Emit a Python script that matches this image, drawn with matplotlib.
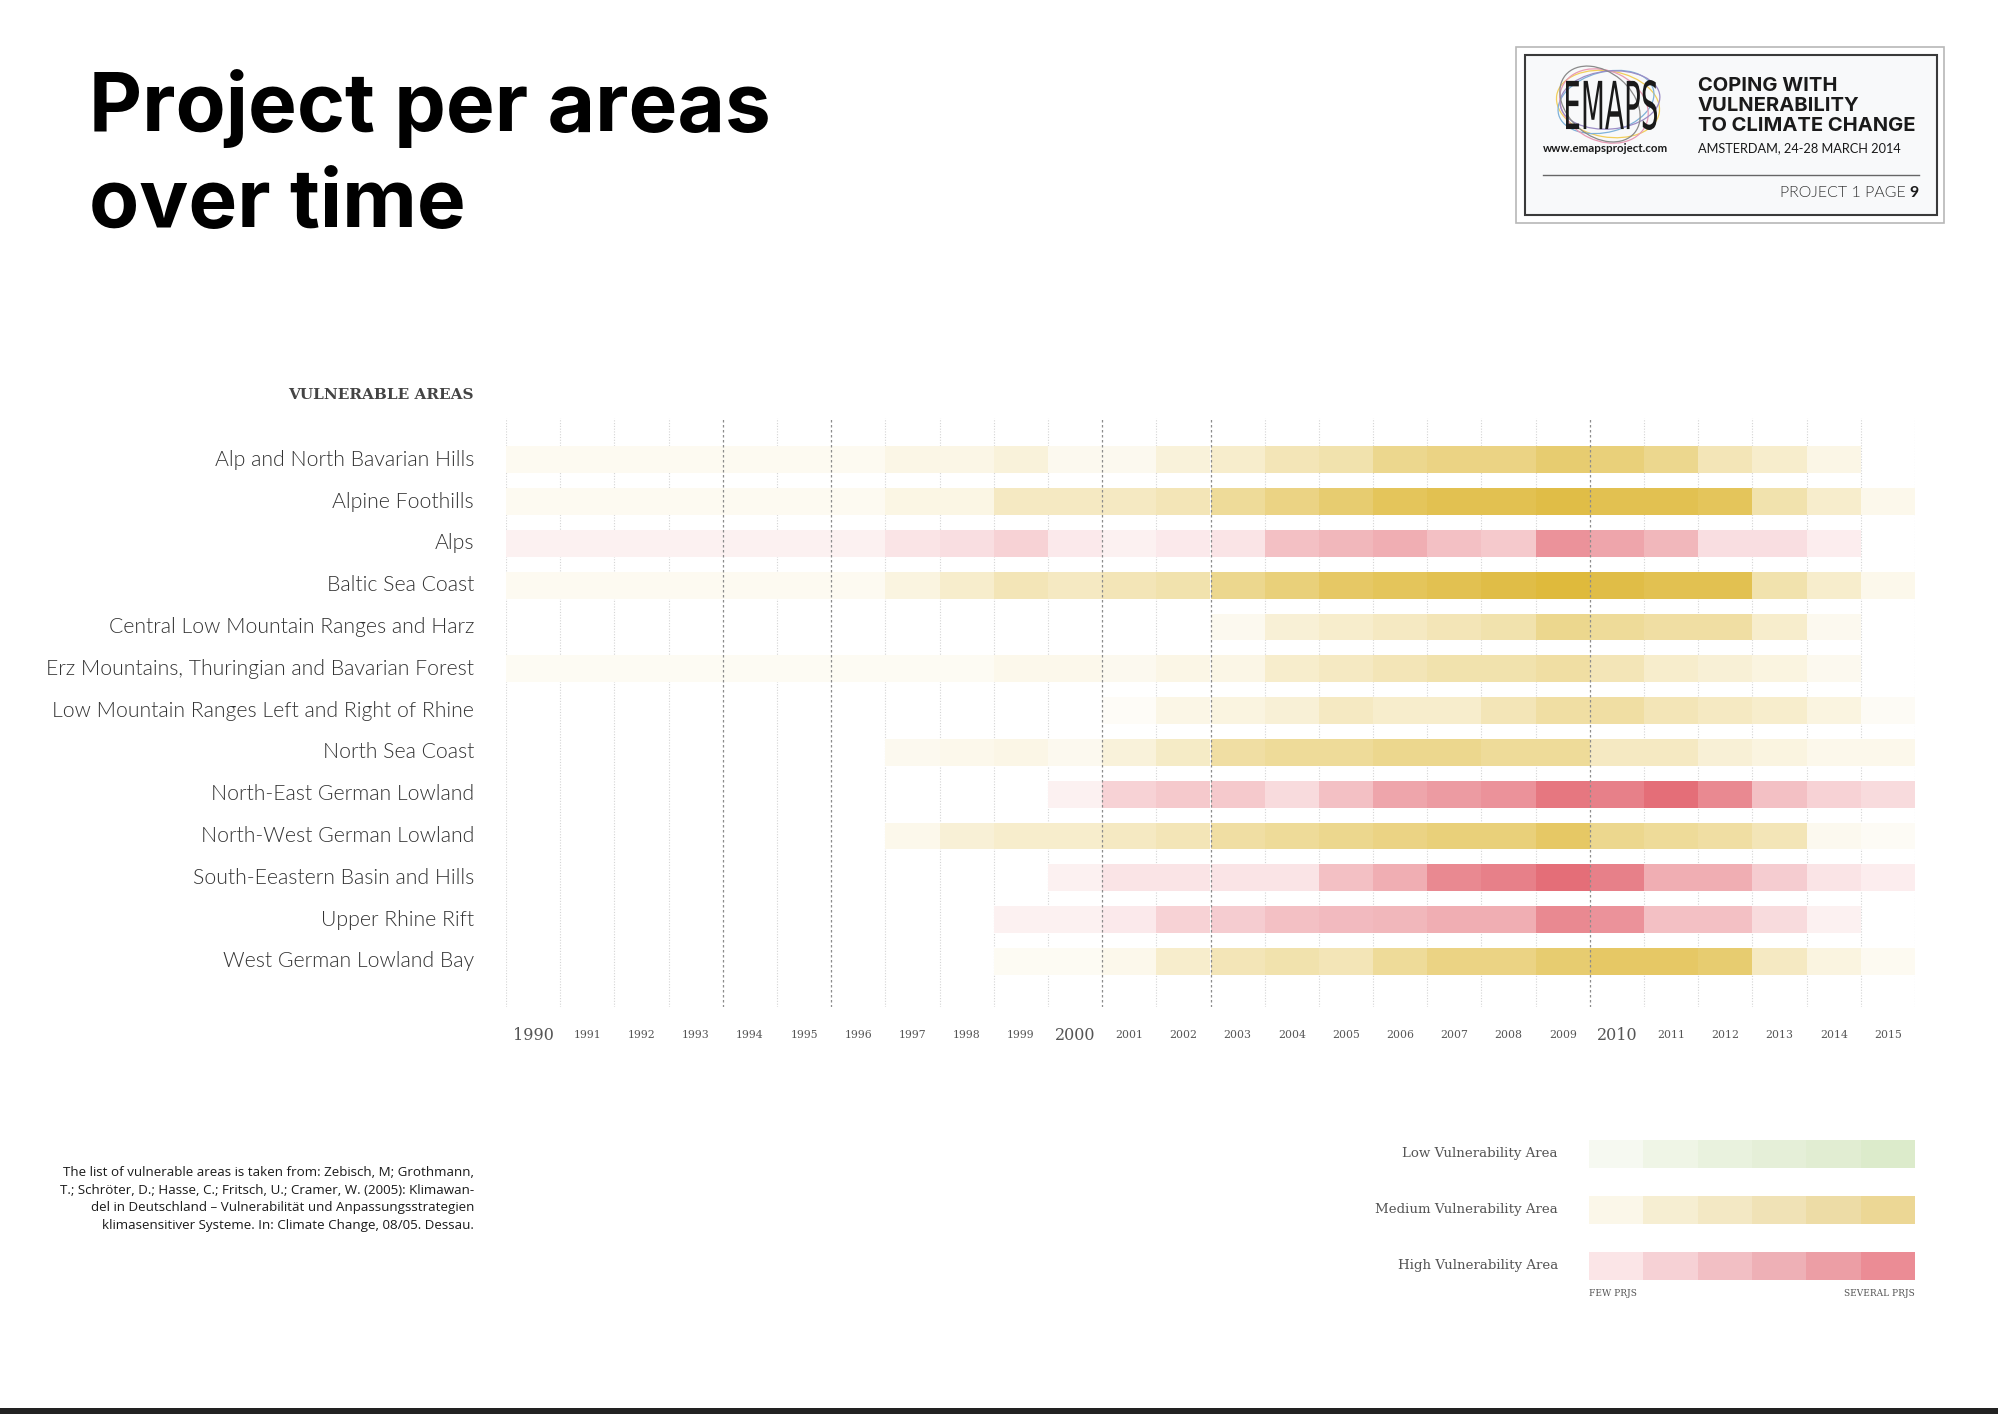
import matplotlib
matplotlib.use('Agg')
import matplotlib.pyplot as plt
import matplotlib.transforms as mtransforms
from matplotlib.patches import Rectangle, Ellipse, PathPatch
from matplotlib.textpath import TextPath
from matplotlib.font_manager import FontProperties
import numpy as np

# ---- data -----------------------------------------------------------------
years = list(range(1990, 2016))

areas = ["Alp and North Bavarian Hills", "Alpine Foothills", "Alps",
         "Baltic Sea Coast", "Central Low Mountain Ranges and Harz",
         "Erz Mountains, Thuringian and Bavarian Forest",
         "Low Mountain Ranges Left and Right of Rhine", "North Sea Coast",
         "North-East German Lowland", "North-West German Lowland",
         "South-Eeastern Basin and Hills", "Upper Rhine Rift",
         "West German Lowland Bay"]

vulnerability = ["medium", "medium", "high", "medium", "medium", "medium",
                 "medium", "medium", "high", "medium", "high", "high", "medium"]

# project density per year (0 = none, 10 = many)
alp_hills = [0.7]*7 + [1.2, 1.2, 1.8, 0.8, 0.8, 1.8, 2.5, 3.5, 4.0, 5.5, 6.0, 6.0, 7.0, 6.5, 5.5, 3.5, 2.5, 1.2, 0]
alpine_foothills = [0.7]*7 + [1.3, 1.3, 3.0, 3.0, 3.0, 3.5, 5.0, 6.0, 7.0, 8.0, 8.5, 8.5, 9.0, 8.5, 8.5, 8.0, 4.0, 2.5, 1.0]
alps = [0.8]*7 + [1.5, 1.8, 2.5, 1.2, 0.8, 1.2, 1.5, 3.5, 4.0, 4.5, 3.5, 3.0, 6.0, 5.0, 4.0, 1.8, 1.8, 1.0, 0]
baltic = [0.7]*7 + [1.5, 2.5, 3.5, 3.0, 3.5, 4.0, 5.5, 6.5, 7.5, 8.0, 8.5, 9.0, 9.5, 9.0, 8.5, 8.5, 4.0, 2.5, 1.0]
central_harz = [0]*13 + [0.8, 2.0, 2.5, 3.0, 3.5, 4.0, 5.5, 5.0, 4.5, 4.5, 2.5, 0.8, 0]
erz_mountains = [0.6]*9 + [1.0, 1.0, 0.8, 1.2, 1.2, 2.5, 3.0, 3.5, 4.0, 4.0, 4.5, 3.5, 2.5, 2.0, 1.5, 0.8, 0]
rhine_ranges = [0]*11 + [0.4, 1.2, 1.5, 2.0, 3.0, 2.5, 2.5, 3.5, 4.5, 4.5, 3.5, 3.0, 2.5, 1.5, 0.5]
north_sea = [0]*7 + [0.8, 1.0, 1.2, 0.8, 1.8, 2.8, 4.5, 5.0, 5.0, 5.5, 5.5, 5.0, 5.0, 3.0, 3.0, 2.0, 1.5, 1.0, 1.0]
ne_lowland = [0]*10 + [0.8, 2.5, 3.0, 3.0, 2.0, 3.5, 5.0, 5.5, 6.0, 7.5, 7.0, 8.0, 6.5, 3.5, 2.5, 2.0]
nw_lowland = [0]*7 + [1.0, 2.0, 2.5, 2.5, 3.0, 3.5, 4.5, 5.0, 5.5, 6.0, 6.5, 6.5, 7.5, 5.5, 5.0, 4.5, 3.5, 0.8, 0.5]
se_basin = [0]*10 + [0.8, 1.5, 1.5, 1.5, 1.5, 3.5, 4.5, 6.5, 7.0, 8.0, 7.0, 4.5, 4.5, 2.8, 1.5, 1.0]
upper_rhine = [0]*9 + [0.8, 0.8, 1.2, 2.5, 2.8, 3.5, 3.8, 4.0, 4.5, 4.5, 6.5, 6.0, 3.5, 3.5, 2.0, 0.8, 0]
west_bay = [0]*9 + [0.6, 0.6, 1.0, 2.5, 3.5, 4.0, 3.5, 5.0, 6.0, 6.0, 7.0, 7.5, 7.5, 7.0, 3.0, 1.5, 0.7]

levels = [alp_hills, alpine_foothills, alps, baltic, central_harz, erz_mountains,
          rhine_ranges, north_sea, ne_lowland, nw_lowland, se_basin, upper_rhine, west_bay]

marked_years = [1994, 1996, 2001, 2003, 2010]

legend_labels = ["Low Vulnerability Area", "Medium Vulnerability Area", "High Vulnerability Area"]
legend_colors = [
    ["#f6f9f1", "#eff5e6", "#e9f2de", "#e5efd8", "#e1edd2", "#dcebcb"],
    ["#fbf7e9", "#f6eed2", "#f3e8c4", "#f0e2b6", "#eddca6", "#ecd795"],
    ["#fbe5e7", "#f6d1d5", "#f2bfc4", "#eeb0b6", "#ec9ea5", "#eb8c95"],
]

# ---- style ----------------------------------------------------------------
W, H = 1999, 1414
MAX_COLOR = {"medium": np.array([221, 182, 50]), "high": np.array([221, 74, 86])}


def shade(kind, lv):
    t = min(lv / 10.0, 1.0)
    c = 255 - t * (255 - MAX_COLOR[kind])
    return c / 255.0


def fig_rect(x0, y0, x1, y1):
    return [x0 / W, 1 - y1 / H, (x1 - x0) / W, (y1 - y0) / H]


fig = plt.figure(figsize=(W / 100, H / 100), dpi=100)
fig.patch.set_facecolor("white")

# overlay in pixel coordinates for the page furniture
ov = fig.add_axes([0, 0, 1, 1])
ov.set_xlim(0, W)
ov.set_ylim(H, 0)
ov.axis("off")

ax = fig.add_axes(fig_rect(506, 418, 1915, 1007))
ax.set_facecolor("none")
ax.set_xlim(1990, 2016)
ax.set_ylim(13.09, -1.0)
for s in ax.spines.values():
    s.set_visible(False)
ax.set_xticks([])
ax.set_yticks([])

# heat strips
for i, (row, kind) in enumerate(zip(levels, vulnerability)):
    xs = [y for y, lv in zip(years, row) if lv > 0]
    cs = [shade(kind, lv) for lv in row if lv > 0]
    ax.barh([i] * len(xs), [1] * len(xs), left=xs, height=0.64, color=cs,
            linewidth=0, align="center", zorder=2)

# vertical year grid
for yr in range(1990, 2017):
    if yr in marked_years:
        ax.axvline(yr, color="#8c8c8c", lw=0.9, ls=(0, (2, 2)), zorder=3)
    else:
        ax.axvline(yr, color="#d4d4d4", lw=0.8, ls=(0, (1, 1.5)), zorder=1)

# year labels
tx = mtransforms.blended_transform_factory(ax.transData, ov.transData)
for yr in years:
    big = yr % 10 == 0
    ax.text(yr + 0.5, 1035, str(yr), transform=tx, ha="center", va="center",
            fontsize=11.5 if big else 7.8, family="DejaVu Serif", color="#555555")

# area labels
ty = mtransforms.blended_transform_factory(ov.transData, ax.transData)
for i, name in enumerate(areas):
    ax.text(474, i, name, transform=ty, ha="right", va="center", fontsize=15.3,
            family=["Lato", "DejaVu Sans"], fontweight=300, color="#333333")

ov.text(474, 395, "VULNERABLE AREAS", ha="right", va="center", fontsize=11,
        family="DejaVu Serif", fontweight="bold", color="#444444")

# title
ov.text(89, 131, "Project per areas", ha="left", va="baseline", fontsize=59,
        family=["Inter", "DejaVu Sans"], fontweight="bold", color="black")
ov.text(89, 227, "over time", ha="left", va="baseline", fontsize=59,
        family=["Inter", "DejaVu Sans"], fontweight="bold", color="black")

# logo box
ov.add_patch(Rectangle((1516, 47), 428, 176, fill=False, ec="#b8b8b8", lw=1.2))
ov.add_patch(Rectangle((1525, 55), 412, 160, fc="#f8f9fa", ec="#3a3a3a", lw=1.5))
for (cx, cy, w, h, a, col) in [(1608, 104, 104, 66, 10, "#f2cf5b"),
                               (1606, 102, 98, 60, -15, "#7fb2d9"),
                               (1604, 106, 92, 70, 25, "#e89ab4"),
                               (1610, 100, 100, 58, -5, "#9c8dc6"),
                               (1600, 104, 90, 64, 40, "#8a8a8a")]:
    ov.add_patch(Ellipse((cx, cy), w, h, angle=a, fill=False, ec=col, lw=0.9))

tp = TextPath((0, 0), "EMAPS", size=1, prop=FontProperties(family="DejaVu Sans", weight="normal"))
ext = tp.get_extents()
sx = 91 / ext.width
sy = 50 / ext.height
trans = mtransforms.Affine2D().translate(-ext.x0, -ext.y0).scale(sx, -sy).translate(1566, 130) + ov.transData
ov.add_patch(PathPatch(tp, transform=trans, fc="#1a1a1a", ec="none"))

ov.text(1543, 149, "www.emapsproject.com", ha="left", va="center", fontsize=8.3,
        family=["Lato", "DejaVu Sans"], fontweight="bold", color="#1a1a1a")
for k, line in enumerate(["COPING WITH", "VULNERABILITY", "TO CLIMATE CHANGE"]):
    ov.text(1698, 86 + 20 * k, line, ha="left", va="center", fontsize=14.5,
            family=["Inter", "DejaVu Sans"], fontweight="bold", color="#1a1a1a")
ov.text(1698, 148, "AMSTERDAM, 24-28 MARCH 2014", ha="left", va="center", fontsize=9.2,
        family=["Lato", "DejaVu Sans"], color="#1a1a1a")
ov.plot([1543, 1919], [175, 175], color="#666666", lw=1)
ov.text(1919, 193, "9", ha="right", va="center", fontsize=11.5,
        family=["Lato", "DejaVu Sans"], fontweight="bold", color="#1a1a1a")
ov.text(1906, 193, "PROJECT 1 PAGE", ha="right", va="center", fontsize=11.5,
        family=["Lato", "DejaVu Sans"], fontweight=300, color="#333333")

# footnote
foot = ["The list of vulnerable areas is taken from: Zebisch, M; Grothmann,",
        "T.; Schröter, D.; Hasse, C.; Fritsch, U.; Cramer, W. (2005): Klimawan-",
        "del in Deutschland \u2013 Vulnerabilität und Anpassungsstrategien",
        "klimasensitiver Systeme. In: Climate Change, 08/05. Dessau."]
for k, line in enumerate(foot):
    ov.text(474, 1172 + 18 * k, line, ha="right", va="center", fontsize=9.6,
            family=["Open Sans", "DejaVu Sans"], color="#1a1a1a")

# legend
cell = (1915 - 1589) / 6
for k, (lab, cols) in enumerate(zip(legend_labels, legend_colors)):
    yc = 1154 + 56 * k
    ov.text(1558, yc, lab, ha="right", va="center", fontsize=9.6,
            family="DejaVu Serif", color="#555555")
    for j, c in enumerate(cols):
        ov.add_patch(Rectangle((1589 + j * cell, yc - 14), cell + 0.5, 28, fc=c, ec="none"))
ov.text(1589, 1293, "FEW PRJS", ha="left", va="center", fontsize=6.5,
        family="DejaVu Serif", color="#555555")
ov.text(1915, 1293, "SEVERAL PRJS", ha="right", va="center", fontsize=6.5,
        family="DejaVu Serif", color="#555555")

# bottom rule
ov.add_patch(Rectangle((0, 1408), W, 6, fc="#222222", ec="none"))

fig.savefig("out.png", dpi=100, facecolor="white")
